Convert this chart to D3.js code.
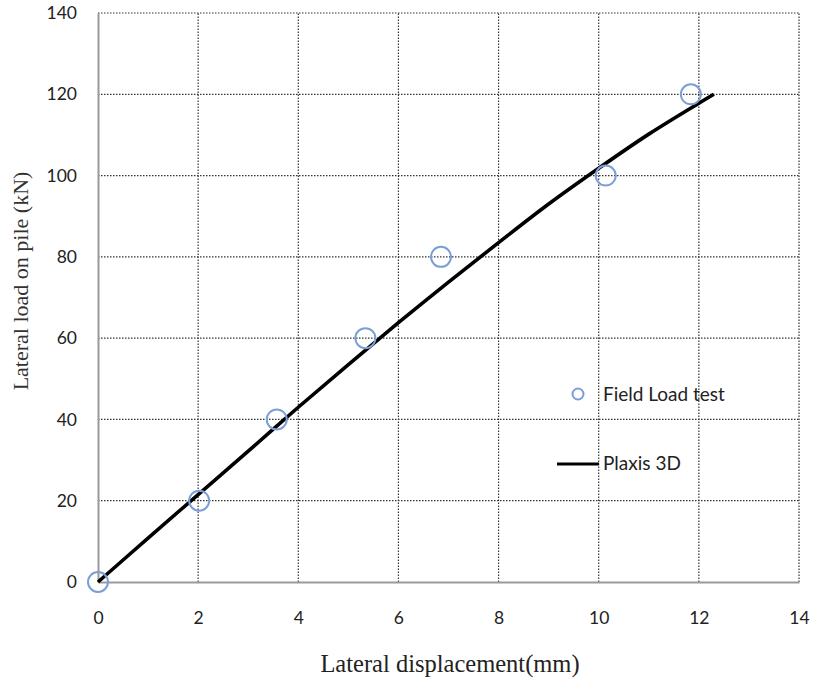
<!DOCTYPE html>
<html><head><meta charset="utf-8">
<script src="https://cdn.jsdelivr.net/npm/d3@7"></script>
<style>body{margin:0;background:#fff}svg{display:block}</style>
</head><body>
<script>
const fieldX = [0, 2.02, 3.57, 5.34, 6.85, 10.14, 11.84];
const fieldY = [0, 20, 40, 60, 80, 100, 120];
const plaxisX = [0, 1, 2, 3, 4, 5, 6, 7, 8, 9, 10, 11, 12, 12.3];
const plaxisY = [0, 10.8, 21.5, 32.2, 43, 53.5, 63.8, 73.8, 83.5, 93, 101.8, 110.2, 117.8, 120];
const xTicks = [0, 2, 4, 6, 8, 10, 12, 14];
const yTicks = [0, 20, 40, 60, 80, 100, 120, 140];
const seriesNames = ["Field Load test", "Plaxis 3D"];

const W = 814, H = 682;
const svg = d3.select("body").append("svg").attr("width", W).attr("height", H);
const x = d3.scaleLinear().domain([0, 14]).range([98, 799]);
const y = d3.scaleLinear().domain([0, 140]).range([582, 13]);
const tickFont = "Lato, 'Open Sans', sans-serif";
const serif = "'Liberation Serif', 'Times New Roman', serif";

// grid
const g = svg.append("g");
g.selectAll(".hg").data(yTicks.slice(1)).join("line")
  .attr("x1", x(0)).attr("x2", x(14)).attr("y1", d => y(d)).attr("y2", d => y(d))
  .attr("stroke", "#333").attr("stroke-width", 1.2).attr("stroke-dasharray", "1.5,1.5");
g.selectAll(".vg").data(xTicks.slice(1)).join("line")
  .attr("y1", y(0)).attr("y2", y(140)).attr("x1", d => x(d)).attr("x2", d => x(d))
  .attr("stroke", "#333").attr("stroke-width", 1.2).attr("stroke-dasharray", "1.5,1.5");

// axes
const xAxis = d3.axisBottom(x).tickValues(xTicks).tickSize(0).tickPadding(30);
const yAxis = d3.axisLeft(y).tickValues(yTicks).tickSize(0).tickPadding(21);
const gx = svg.append("g").attr("transform", `translate(0,${y(0)})`).call(xAxis);
const gy = svg.append("g").attr("transform", `translate(${x(0)},0)`).call(yAxis);
[gx, gy].forEach(a => {
  a.select(".domain").attr("stroke", "#999").attr("stroke-width", 2);
  a.selectAll("text").attr("font-family", tickFont).attr("font-size", 17.5).attr("fill", "#222");
});

// line
const data = plaxisX.map((v, i) => [v, plaxisY[i]]);
svg.append("path").datum(data)
  .attr("d", d3.line().x(d => x(d[0])).y(d => y(d[1])).curve(d3.curveCatmullRom))
  .attr("fill", "none").attr("stroke", "#000").attr("stroke-width", 3.6);

// points
svg.selectAll(".pt").data(fieldX.map((v, i) => [v, fieldY[i]])).join("circle")
  .attr("cx", d => x(d[0])).attr("cy", d => y(d[1])).attr("r", 10)
  .attr("fill", "none").attr("stroke", "#7b9fd6").attr("stroke-width", 2);

// legend
svg.append("circle").attr("cx", 578).attr("cy", 394).attr("r", 5.5)
  .attr("fill", "none").attr("stroke", "#7b9fd6").attr("stroke-width", 2);
svg.append("line").attr("x1", 557).attr("x2", 599).attr("y1", 464).attr("y2", 464)
  .attr("stroke", "#000").attr("stroke-width", 3);
svg.selectAll(".lt").data(seriesNames).join("text")
  .attr("x", 603).attr("y", (d, i) => i === 0 ? 401 : 470)
  .attr("font-family", tickFont).attr("font-size", 19).attr("fill", "#222")
  .text(d => d);

// titles
svg.append("text").attr("x", 450).attr("y", 672).attr("text-anchor", "middle")
  .attr("font-family", serif).attr("font-size", 24.5).attr("fill", "#222")
  .text("Lateral displacement(mm)");
svg.append("text").attr("transform", "translate(28,281) rotate(-90)").attr("text-anchor", "middle")
  .attr("font-family", serif).attr("font-size", 22).attr("fill", "#333")
  .text("Lateral load on pile (kN)");
</script>
</body></html>
